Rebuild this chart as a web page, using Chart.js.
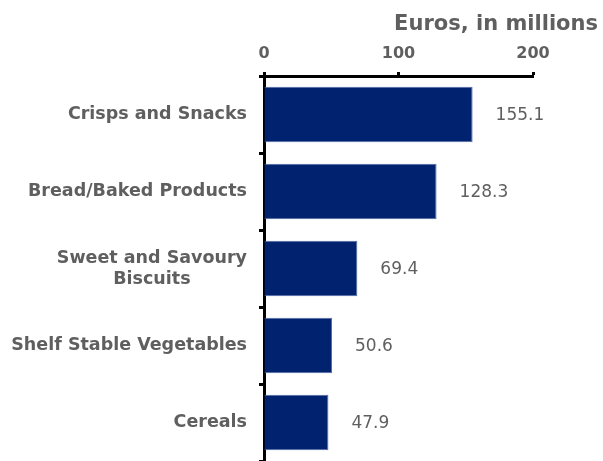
<!DOCTYPE html>
<html>
<head>
<meta charset="utf-8">
<script src="https://cdn.jsdelivr.net/npm/chart.js@4.4.1/dist/chart.umd.min.js"></script>
<style>
  html, body { margin: 0; padding: 0; background: #fff; }
  #wrap { width: 603px; height: 461px; }
</style>
</head>
<body>
<div id="wrap"><canvas id="salesChart"></canvas></div>
<script>
const categories = [
  "Crisps and Snacks",
  "Bread/Baked Products",
  ["Sweet and Savoury", "Biscuits"],
  "Shelf Stable Vegetables",
  "Cereals"
];
const values = [155.1, 128.3, 69.4, 50.6, 47.9];
const xTicks = [0, 100, 200];
const unitTitle = "Euros, in millions";

const grey = "#5f5f5f";
const navy = "#00226f";
const font = "'DejaVu Sans', Verdana, sans-serif";

// category names are drawn by hand so that two-line names stay centred on each other
const categoryLabels = {
  id: "categoryLabels",
  afterDraw(chart) {
    const { ctx, scales: { y } } = chart;
    ctx.save();
    ctx.font = `bold 17.5px ${font}`;
    ctx.fillStyle = grey;
    ctx.textBaseline = "middle";
    const right = y.right - 17;
    categories.forEach((c, i) => {
      const lines = Array.isArray(c) ? c : [c];
      const widest = Math.max(...lines.map((l) => ctx.measureText(l).width));
      const cy = y.getPixelForValue(i);
      const lh = 21;
      ctx.textAlign = "center";
      lines.forEach((l, j) => {
        ctx.fillText(l, right - widest / 2, cy + (j - (lines.length - 1) / 2) * lh);
      });
    });

    // unit title over the value axis
    ctx.font = `bold 21px ${font}`;
    ctx.textAlign = "right";
    ctx.textBaseline = "alphabetic";
    ctx.fillText(unitTitle, 598, 30);
    ctx.restore();
  },
};

// value printed to the right of each bar
const valueLabels = {
  id: "valueLabels",
  afterDatasetsDraw(chart) {
    const { ctx } = chart;
    const meta = chart.getDatasetMeta(0);
    ctx.save();
    ctx.font = `17px ${font}`;
    ctx.fillStyle = grey;
    ctx.textAlign = "left";
    ctx.textBaseline = "middle";
    meta.data.forEach((bar, i) => {
      ctx.fillText(values[i].toFixed(1), bar.x + 23, bar.y + 1);
    });
    ctx.restore();
  },
};

new Chart(document.getElementById("salesChart").getContext("2d"), {
  type: "bar",
  plugins: [valueLabels, categoryLabels],
  data: {
    labels: categories,
    datasets: [
      {
        data: values,
        backgroundColor: navy,
        borderColor: "#4f6ca8",
        borderWidth: 1,
        borderSkipped: "start",
        barPercentage: 0.72,
        categoryPercentage: 1,
      },
    ],
  },
  options: {
    indexAxis: "y",
    animation: false,
    responsive: true,
    maintainAspectRatio: false,
    layout: { padding: { top: 0, right: 70, bottom: -4, left: 0 } },
    plugins: {
      legend: { display: false },
      tooltip: { enabled: false },
    },
    scales: {
      x: {
        position: "top",
        min: 0,
        max: 200,
        afterBuildTicks: (scale) => {
          scale.ticks = xTicks.map((v) => ({ value: v }));
        },
        afterFit: (scale) => {
          scale.height = 76;
        },
        border: { color: "#000", width: 3 },
        grid: {
          drawOnChartArea: false,
          color: "#000",
          tickLength: 4,
          tickWidth: 3,
        },
        ticks: {
          color: grey,
          padding: 9,
          font: { family: font, size: 16, weight: "bold" },
        },
      },
      y: {
        afterFit: (scale) => {
          scale.width = 264;
        },
        border: { color: "#000", width: 3 },
        grid: {
          offset: true,
          drawOnChartArea: false,
          color: "#000",
          tickLength: 5,
          tickWidth: 3,
        },
        ticks: { display: false },
      },
    },
  },
});
</script>
</body>
</html>
